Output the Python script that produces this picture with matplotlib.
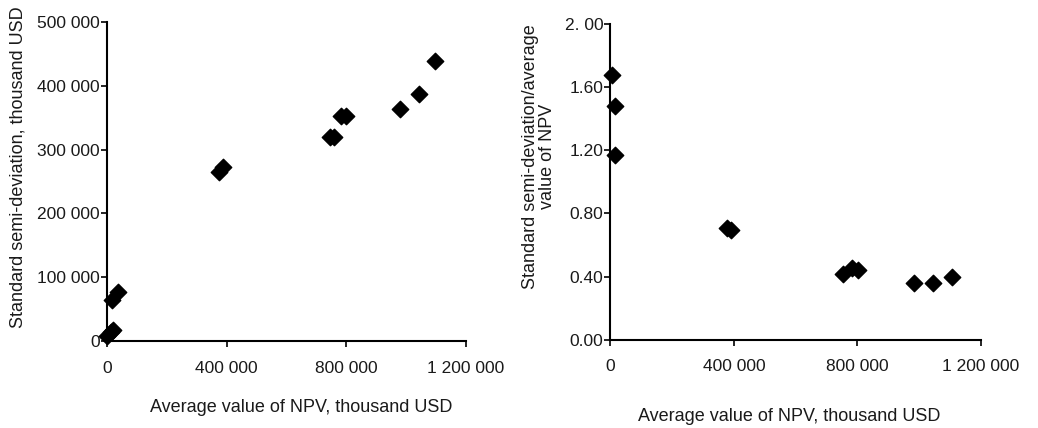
import matplotlib
matplotlib.use("Agg")
import matplotlib.pyplot as plt
from matplotlib.ticker import FuncFormatter

plt.rcParams['font.family'] = ['Liberation Sans', 'DejaVu Sans']

# left chart: average NPV vs standard semi-deviation (thousand USD)
npv_left = [0, 12000, 19000, 16000, 36000, 376000, 387000, 747000, 758000,
            781000, 798000, 978000, 1042000, 1097000]
semidev_left = [8000, 14000, 17000, 64000, 77000, 265000, 272000, 320000, 320000,
                353000, 353000, 363000, 387000, 438000]

# right chart: average NPV vs semi-deviation / average NPV
npv_right = [6500, 14000, 14000, 377000, 391000, 755000, 782000, 801000,
             984000, 1046000, 1105000]
ratio_right = [1.68, 1.48, 1.17, 0.705, 0.698, 0.414, 0.456, 0.441,
               0.361, 0.361, 0.397]

x_ticks = [0, 400000, 800000, 1200000]
y_ticks_left = [0, 100000, 200000, 300000, 400000, 500000]
y_ticks_right = [0.0, 0.4, 0.8, 1.2, 1.6, 2.0]

FS = 13
TEXT_COLOR = '#1a1a1a'


def thousands(v, pos):
    return f"{int(round(v)):,}".replace(",", " ")


def style(ax):
    ax.spines['top'].set_visible(False)
    ax.spines['right'].set_visible(False)
    for s in ['left', 'bottom']:
        ax.spines[s].set_linewidth(1.5)
    ax.tick_params(direction='out', length=4, width=1.2, labelsize=FS - 0.5,
                   labelcolor=TEXT_COLOR, pad=1)
    ax.tick_params(axis='x', pad=10)


fig = plt.figure(figsize=(10.38, 4.28), dpi=100)
ax1 = fig.add_axes([0.103, 0.203, 0.346, 0.746])
ax2 = fig.add_axes([0.588, 0.206, 0.357, 0.738])

ax1.scatter(npv_left, semidev_left, marker='D', s=70, color='black', zorder=3,
            clip_on=False)
ax1.set_xlim(0, 1200000)
ax1.set_ylim(0, 500000)
ax1.set_xticks(x_ticks)
ax1.set_yticks(y_ticks_left)
ax1.xaxis.set_major_formatter(FuncFormatter(thousands))
ax1.yaxis.set_major_formatter(FuncFormatter(thousands))
style(ax1)
fig.text(0.29, 0.049, "Average value of NPV, thousand USD", ha='center',
         va='center', fontsize=FS, color=TEXT_COLOR)
fig.text(0.017, 0.61, "Standard semi-deviation, thousand USD", rotation=90,
         ha='center', va='center', fontsize=FS, color=TEXT_COLOR)

ax2.scatter(npv_right, ratio_right, marker='D', s=70, color='black', zorder=3,
            clip_on=False)
ax2.set_xlim(0, 1200000)
ax2.set_ylim(0, 2.0)
ax2.set_xticks(x_ticks)
ax2.set_yticks(y_ticks_right)
ax2.xaxis.set_major_formatter(FuncFormatter(thousands))
ax2.set_yticklabels(["0.00", "0.40", "0.80", "1.20", "1.60", "2. 00"])
style(ax2)
fig.text(0.76, 0.028, "Average value of NPV, thousand USD", ha='center',
         va='center', fontsize=FS, color=TEXT_COLOR)
fig.text(0.519, 0.635, "Standard semi-deviation/average\nvalue of NPV",
         rotation=90, ha='center', va='center', fontsize=FS, color=TEXT_COLOR,
         linespacing=1.0)

fig.savefig("out.png", dpi=100)
